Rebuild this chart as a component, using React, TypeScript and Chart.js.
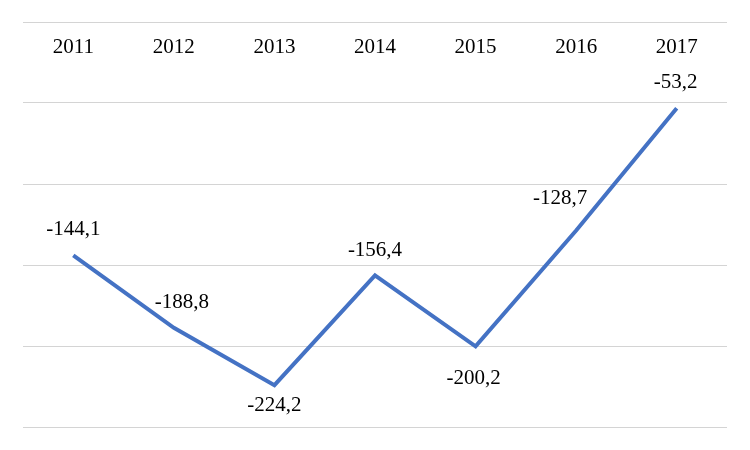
import React, { useEffect, useRef } from "react";
import { Chart, registerables } from "chart.js";

Chart.register(...registerables);

const years = ["2011", "2012", "2013", "2014", "2015", "2016", "2017"];
const values = [-144.1, -188.8, -224.2, -156.4, -200.2, -128.7, -53.2];
const yTicks = [0, -50, -100, -150, -200, -250];

// label offsets (style only)
const labelDx = [0, 8, 0, 0, -2, -16, -1];
const labelDy = [-25.5, -25, 20, -25, 32, -32, -25.5];

const FONT = "'Liberation Serif', 'Times New Roman', serif";

const fmt = (v: number) => v.toFixed(1).replace(".", ",");

const labelsPlugin = {
  id: "pointLabels",
  afterDatasetsDraw(chart: any) {
    const ctx = chart.ctx;
    const meta = chart.getDatasetMeta(0);
    ctx.save();
    ctx.font = `21px ${FONT}`;
    ctx.fillStyle = "#000000";
    ctx.textAlign = "center";
    ctx.textBaseline = "middle";
    meta.data.forEach((pt: any, i: number) => {
      ctx.fillText(fmt(values[i]), pt.x + labelDx[i], pt.y + labelDy[i]);
    });
    ctx.restore();
  },
};

export default function App() {
  const ref = useRef<HTMLCanvasElement>(null);
  useEffect(() => {
    if (!ref.current) return;
    const chart = new Chart(ref.current, {
      type: "line",
      data: {
        labels: years,
        datasets: [
          {
            data: values,
            borderColor: "#4472C4",
            borderWidth: 4,
            pointRadius: 0,
            pointHoverRadius: 0,
            tension: 0,
            fill: false,
          },
        ],
      },
      options: {
        responsive: false,
        animation: false,
        maintainAspectRatio: false,
        layout: { padding: { left: 23, right: 23, top: 22, bottom: 23 } },
        plugins: { legend: { display: false }, tooltip: { enabled: false } },
        scales: {
          x: {
            position: { y: 0 } as any,
            offset: true,
            grid: { display: false, drawTicks: false },
            border: { display: false },
            ticks: {
              padding: 13,
              color: "#000000",
              font: { family: FONT, size: 21 },
              maxRotation: 0,
            },
          },
          y: {
            min: -250,
            max: 0,
            afterBuildTicks: (s: any) => {
              s.ticks = yTicks.map((v) => ({ value: v }));
            },
            afterFit: (s: any) => {
              s.width = 0;
            },
            grid: { color: "#d4d4d4", lineWidth: 1, drawTicks: false },
            border: { display: false },
            ticks: { display: false },
          },
        },
      },
      plugins: [labelsPlugin],
    });
    return () => chart.destroy();
  }, []);
  return (
    <div style={{ position: "absolute", left: 0, top: 0, width: 750, height: 450, background: "#fff" }}>
      <canvas ref={ref} width={750} height={450} style={{ width: 750, height: 450 }} />
    </div>
  );
}
